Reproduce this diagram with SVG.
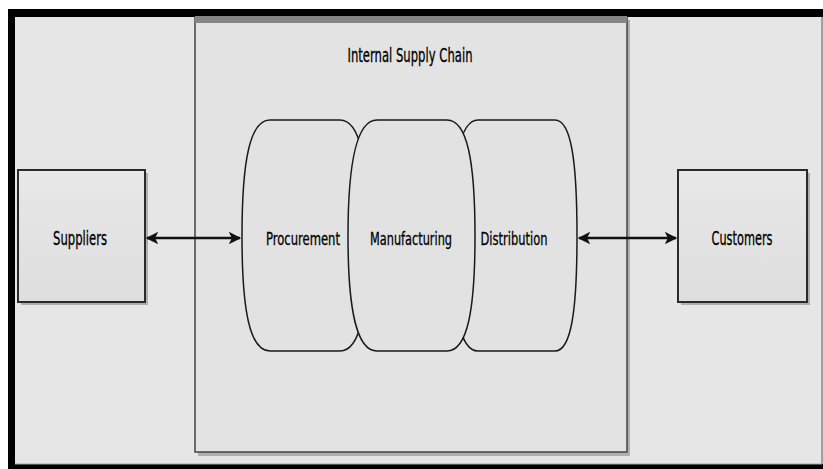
<svg xmlns="http://www.w3.org/2000/svg" width="823" height="469" viewBox="0 0 823 469">
<style>
.lbl{font-family:"Liberation Sans Narrow","DejaVu Sans Condensed","Liberation Sans",sans-serif;font-size:19px;fill:#000;stroke:#000;stroke-width:0.3;text-anchor:middle}
.sm{font-size:18px}
.box{fill:url(#boxg);stroke:#2a2a2a;stroke-width:2}
.shadow{fill:#8a8a8a;opacity:0.6}
.barrel{fill:#e2e2e2;stroke:#1a1a1a;stroke-width:1.5}
.conn{stroke:#111;stroke-width:2.5;fill:none;marker-start:url(#ah);marker-end:url(#ah)}
</style>
<defs>
<linearGradient id="boxg" x1="0" y1="0" x2="0" y2="1">
<stop offset="0" stop-color="#e8e8e8"/>
<stop offset="1" stop-color="#dedede"/>
</linearGradient>
<marker id="ah" viewBox="0 0 10 10" refX="9" refY="5" markerWidth="5" markerHeight="5" orient="auto-start-reverse" markerUnits="strokeWidth">
<path d="M0,0 L10,5 L0,10 L2.5,5 Z" fill="#111"/>
</marker>
</defs>
<rect x="0" y="0" width="823" height="469" fill="#ffffff"/>
<rect x="8" y="9" width="815" height="460" fill="#000000"/>
<rect x="15" y="17" width="808" height="447" fill="#e6e6e6"/>
<line x1="822" y1="17" x2="822" y2="464" stroke="#888" stroke-width="1.5"/>
<line x1="15" y1="464" x2="822" y2="464" stroke="#aaa" stroke-width="1"/>

<g id="internal-supply-chain">
<rect class="shadow" x="198" y="20" width="432" height="436"/>
<rect x="195" y="17" width="432" height="435" fill="#e3e3e3" stroke="#444" stroke-width="1.5"/>
<rect x="195" y="16" width="432" height="7" fill="#858585"/>
<text class="lbl" x="410" y="62" textLength="125" lengthAdjust="spacingAndGlyphs">Internal Supply Chain</text>
</g>

<g id="suppliers">
<rect class="shadow" x="21" y="173" width="127" height="132"/>
<rect class="box" x="18" y="170" width="127" height="132"/>
<text class="lbl" x="80" y="245" textLength="54" lengthAdjust="spacingAndGlyphs">Suppliers</text>
</g>

<g id="customers">
<rect class="shadow" x="681" y="173" width="129" height="132"/>
<rect class="box" x="678" y="170" width="129" height="132"/>
<text class="lbl" x="742" y="245" textLength="61" lengthAdjust="spacingAndGlyphs">Customers</text>
</g>

<g id="procurement">
<path class="barrel" d="M270,120 L340,120 C360,120 368,160 368,236 C368,312 360,351 340,351 L270,351 C250,351 242,312 242,236 C242,160 250,120 270,120 Z"/>
<text class="lbl sm" x="303" y="245" textLength="74" lengthAdjust="spacingAndGlyphs">Procurement</text>
</g>

<g id="distribution">
<path class="barrel" d="M478,120 L555,120 C571,120 577,160 577,236 C577,312 571,351 555,351 L478,351 C460,351 452,312 452,236 C452,160 460,120 478,120 Z"/>
<text class="lbl sm" x="514" y="245" textLength="67" lengthAdjust="spacingAndGlyphs">Distribution</text>
</g>

<g id="manufacturing">
<path class="barrel" d="M377,120 L447,120 C467,120 475,160 475,236 C475,312 467,351 447,351 L377,351 C357,351 348,312 348,236 C348,160 357,120 377,120 Z"/>
<text class="lbl sm" x="411" y="245" textLength="82" lengthAdjust="spacingAndGlyphs">Manufacturing</text>
</g>

<g id="connectors">
<line class="conn" x1="147" y1="238" x2="240" y2="238"/>
<line class="conn" x1="579" y1="238" x2="676" y2="238"/>
</g>
</svg>
